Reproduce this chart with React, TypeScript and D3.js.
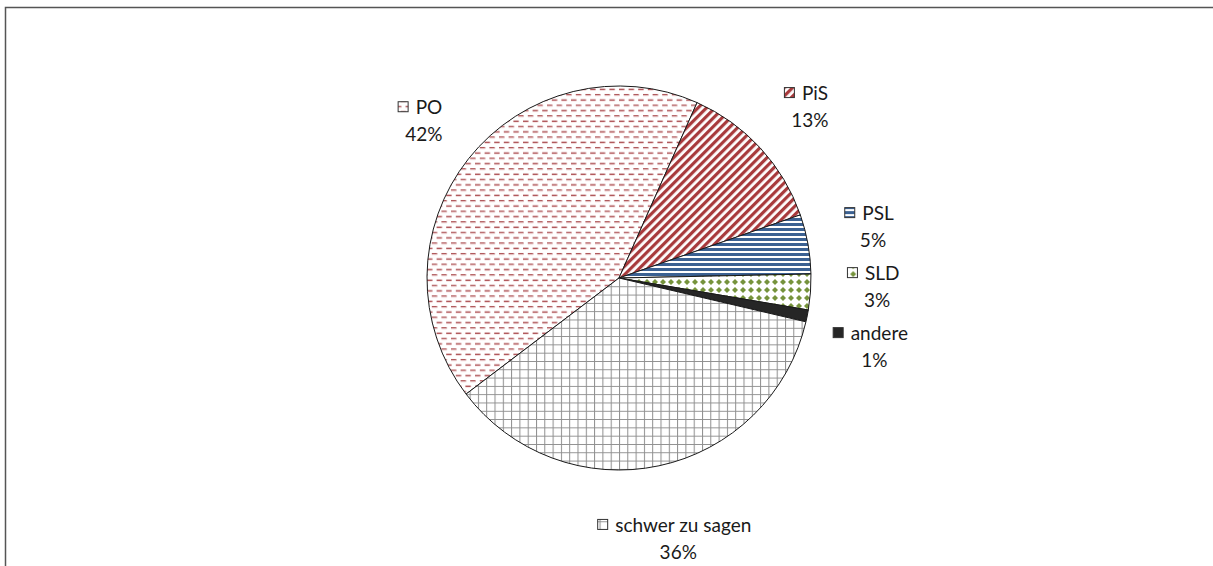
import React, { useEffect, useRef } from 'react';
import * as d3 from 'd3';

// Parties and their share (in %)
const parties = ['PO', 'PiS', 'PSL', 'SLD', 'andere', 'schwer zu sagen'];
const shares = [42, 13, 5, 3, 1, 36];
const percentLabels = ['42%', '13%', '5%', '3%', '1%', '36%'];
const fillIds = ['pat-po', 'pat-pis', 'pat-psl', 'pat-sld', 'solid-andere', 'pat-grid'];

const App = () => {
  const ref = useRef<SVGSVGElement | null>(null);

  useEffect(() => {
    document.body.style.margin = '0';
    const width = 1213;
    const height = 566;
    const cx = 619;
    const cy = 278;
    const radius = 192;
    const labelRadius = 254;
    const blockH = 60;

    const svg = d3.select(ref.current);
    svg.selectAll('*').remove();

    const defs = svg.append('defs');

    // PO: staggered short red dashes
    const po = defs.append('pattern').attr('id', 'pat-po')
      .attr('patternUnits', 'userSpaceOnUse').attr('width', 9.6).attr('height', 10.6);
    po.append('rect').attr('width', 9.6).attr('height', 10.6).attr('fill', '#fff');
    [[-4.8, 7.5], [0, 2.2], [4.8, 7.5]].forEach(([x, y]) => {
      po.append('line').attr('x1', x).attr('x2', x + 5.4).attr('y1', y).attr('y2', y)
        .attr('stroke', '#9e3236').attr('stroke-width', 1.2);
      po.append('line').attr('x1', x).attr('x2', x + 5.4).attr('y1', y + 1.1).attr('y2', y + 1.1)
        .attr('stroke', '#f0d2d2').attr('stroke-width', 0.6);
    });

    // PiS: red diagonal stripes
    const pis = defs.append('pattern').attr('id', 'pat-pis')
      .attr('patternUnits', 'userSpaceOnUse').attr('width', 6).attr('height', 6)
      .attr('patternTransform', 'rotate(45)');
    pis.append('rect').attr('width', 6).attr('height', 6).attr('fill', '#fff');
    pis.append('rect').attr('width', 3.2).attr('height', 6).attr('fill', '#a83a3c');

    // PSL: blue horizontal stripes
    const psl = defs.append('pattern').attr('id', 'pat-psl')
      .attr('patternUnits', 'userSpaceOnUse').attr('width', 10).attr('height', 5);
    psl.append('rect').attr('width', 10).attr('height', 5).attr('fill', '#fff');
    psl.append('rect').attr('width', 10).attr('height', 3).attr('fill', '#3b6192');

    // SLD: green diamonds
    const sld = defs.append('pattern').attr('id', 'pat-sld')
      .attr('patternUnits', 'userSpaceOnUse').attr('width', 8).attr('height', 8);
    sld.append('rect').attr('width', 8).attr('height', 8).attr('fill', '#fff');
    sld.append('polygon').attr('points', '4,1 7,4 4,7 1,4').attr('fill', '#76933c');

    // schwer zu sagen: gray grid
    const grid = defs.append('pattern').attr('id', 'pat-grid')
      .attr('patternUnits', 'userSpaceOnUse').attr('width', 8.3).attr('height', 8.3);
    grid.append('rect').attr('width', 8.3).attr('height', 8.3).attr('fill', '#fff');
    grid.append('path').attr('d', 'M0,0.5H8.3M0.5,0V8.3')
      .attr('stroke', '#8e8e8e').attr('stroke-width', 1).attr('fill', 'none');

    const fillOf = (i: number) => (fillIds[i] === 'solid-andere' ? '#262626' : `url(#${fillIds[i]})`);

    // chart frame
    svg.append('rect').attr('width', width).attr('height', height).attr('fill', '#fff');
    svg.append('rect').attr('x', 5.5).attr('y', 7.5).attr('width', width + 20).attr('height', height + 20)
      .attr('fill', 'none').attr('stroke', '#555').attr('stroke-width', 1.5);

    const startDeg = 232.8;
    const pie = d3.pie<number>().sort(null).value((d) => d)
      .startAngle((startDeg * Math.PI) / 180)
      .endAngle(((startDeg + 360) * Math.PI) / 180);
    const arcs = pie(shares);
    const arc = d3.arc<d3.PieArcDatum<number>>().innerRadius(0).outerRadius(radius);

    const g = svg.append('g').attr('transform', `translate(${cx},${cy})`);
    g.selectAll('path').data(arcs).enter().append('path')
      .attr('d', arc)
      .attr('fill', (d, i) => fillOf(i))
      .attr('stroke', '#1a1a1a')
      .attr('stroke-width', 1)
      .attr('stroke-linejoin', 'round');

    // label anchors along the slice's mid angle, then spread apart on the right side
    const pos = arcs.map((d) => {
      const a = (d.startAngle + d.endAngle) / 2;
      const r = labelRadius + 12 * Math.max(0, -Math.cos(a));
      return { x: r * Math.sin(a), y: -r * Math.cos(a), right: Math.sin(a) > 0.3 };
    });
    const rightIdx = pos.map((p, i) => i).filter((i) => pos[i].right).sort((a, b) => pos[a].y - pos[b].y);
    for (let iter = 0; iter < 50; iter++) {
      for (let k = 1; k < rightIdx.length; k++) {
        const p = pos[rightIdx[k - 1]];
        const q = pos[rightIdx[k]];
        const overlap = blockH - (q.y - p.y);
        if (overlap > 0) {
          p.y -= overlap / 2;
          q.y += overlap / 2;
        }
      }
    }

    const font = 'Lato, "Open Sans", sans-serif';
    const labels = g.selectAll('g.lbl').data(arcs).enter().append('g')
      .attr('class', 'lbl')
      .attr('transform', (d, i) => `translate(${pos[i].x},${pos[i].y})`);

    labels.each(function (d, i) {
      const lg = d3.select(this);
      const name = lg.append('text')
        .attr('y', -13).attr('dy', '0.35em').attr('text-anchor', 'middle')
        .attr('font-family', font).attr('font-size', 19).attr('fill', '#1a1a1a')
        .text(parties[i]);
      const w = (name.node() as SVGTextElement).getComputedTextLength();
      const box = 10;
      const gap = 8;
      const total = box + gap + w;
      name.attr('x', (box + gap) / 2);
      lg.append('rect')
        .attr('x', -total / 2 + 0.5).attr('y', -18.5)
        .attr('width', box).attr('height', box)
        .attr('fill', fillOf(i)).attr('stroke', '#333').attr('stroke-width', 1);
      lg.append('text')
        .attr('y', 14).attr('dy', '0.35em').attr('x', 4).attr('text-anchor', 'middle')
        .attr('font-family', font).attr('font-size', 19).attr('fill', '#1a1a1a')
        .text(percentLabels[i]);
    });
  }, []);

  return <svg ref={ref} width={1213} height={566} style={{ display: 'block' }} />;
};

export default App;
